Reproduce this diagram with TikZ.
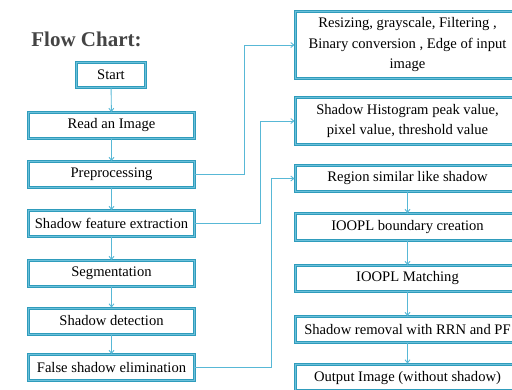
\documentclass[tikz,border=0pt]{standalone}
\usepackage{fontspec}
\setmainfont{Liberation Serif}
\usetikzlibrary{arrows.meta}
\definecolor{boxline}{HTML}{2F9CBC}
\definecolor{boxinner}{HTML}{6CC0DA}
\definecolor{arrowc}{HTML}{58B8D6}
\definecolor{titlec}{HTML}{444444}
\tikzset{
  fbox/.style={rectangle, draw=boxline, double=boxinner, double distance=0.8pt, line width=1.1pt,
    fill=white, inner sep=0pt, align=center, font=\fontsize{14.6}{20.5}\selectfont},
  lbox/.style={fbox, minimum width=166pt, minimum height=26pt},
  rbox/.style={fbox, minimum width=225pt},
  conn/.style={draw=arrowc, line width=0.9pt, -{Straight Barb[length=3pt,width=5pt]}}
}
\begin{document}
\begin{tikzpicture}[x=1pt,y=-1pt]
\useasboundingbox (0,0) rectangle (512,389);
\clip (0,0) rectangle (512,389);
\node[font=\fontsize{21}{24}\selectfont\bfseries, text=titlec] (title) at (86.5,39.5) {Flow Chart:};
\node[fbox, minimum width=69pt, minimum height=25pt] (start) at (111,75) {Start};
\node[lbox] (read) at (111.5,125.5) {Read an Image};
\node[lbox] (prep) at (111.5,174.5) {Preprocessing};
\node[lbox] (sfe) at (111.5,223.5) {Shadow feature extraction};
\node[lbox] (seg) at (111.5,273.5) {Segmentation};
\node[lbox] (sd) at (111.5,321) {Shadow detection};
\node[lbox] (fse) at (111.5,367.5) {False shadow elimination};

\node[rbox, minimum height=67pt] (b1) at (407.5,45) {Resizing, grayscale, Filtering ,\\Binary conversion , Edge of input\\image};
\node[rbox, minimum height=47pt] (b2) at (407.5,121) {Shadow Histogram peak value,\\pixel value, threshold value};
\node[rbox, minimum height=26pt] (b3) at (407.5,178.5) {Region similar like shadow};
\node[rbox, minimum height=27pt] (b4) at (407.5,227) {IOOPL boundary creation};
\node[rbox, minimum height=26pt] (b5) at (407.5,278.5) {IOOPL Matching};
\node[rbox, minimum height=26pt] (b6) at (407.5,329.5) {Shadow removal with RRN and PF};
\node[rbox, minimum height=26pt, text depth=0pt] (b7) at (407.5,377) {\raisebox{2pt}{Output Image (without shadow)}};

\draw[conn] (start) -- (read);
\draw[conn] (read) -- (prep);
\draw[conn] (prep) -- (sfe);
\draw[conn] (sfe) -- (seg);
\draw[conn] (seg) -- (sd);
\draw[conn] (sd) -- (fse);
\draw[conn] (b3) -- (b4);
\draw[conn] (b4) -- (b5);
\draw[conn] (b5) -- (b6);
\draw[conn] (b6) -- (b7);
\draw[conn] (prep.east) -- ++(49,0) |- (b1.west);
\draw[conn] (sfe.east) -- ++(65,0) |- (b2.west);
\draw[conn] (fse.east) -- ++(76,0) |- (b3.west);
\end{tikzpicture}
\end{document}
